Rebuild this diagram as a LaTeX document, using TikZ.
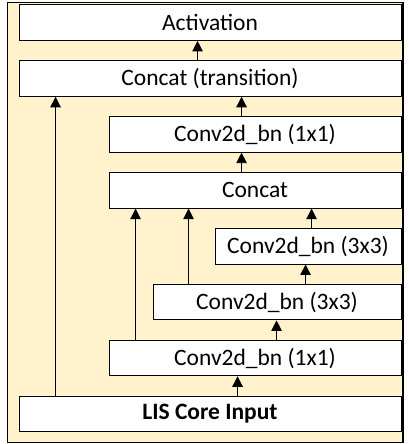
\documentclass[tikz,border=0pt]{standalone}
\usepackage{fontspec}
\setmainfont{Carlito}
\usetikzlibrary{positioning, arrows.meta}
\definecolor{cream}{HTML}{FFF2CC}

\begin{document}
\begin{tikzpicture}[x=1pt, y=1pt, node distance=19.5pt,
    box/.style={draw, fill=white, line width=0.9pt, minimum height=35.5pt,
      inner sep=0pt, font=\fontsize{23.5}{27}\selectfont},
    arr/.style={-{Triangle[length=10.5pt, width=10.5pt]}, line width=0.9pt}]

  \useasboundingbox (0,0) rectangle (408,444);
  \draw[fill=cream, line width=1.1pt] (7.3,1.8) rectangle (403,441.3);

  \node[box, minimum width=382pt] (lis) at (210,30) {\textbf{LIS Core Input}};
  \node[box, minimum width=292pt, above=of lis.north east, anchor=south east] (cv1b) {Conv2d\_bn (1x1)};
  \node[box, minimum width=248pt, above=of cv1b.north east, anchor=south east] (cv3m) {Conv2d\_bn (3x3)};
  \node[box, minimum width=186pt, above=of cv3m.north east, anchor=south east] (cv3s) {Conv2d\_bn (3x3)};
  \node[box, minimum width=292pt, above=of cv3s.north east, anchor=south east] (cat) {Concat};
  \node[box, minimum width=292pt, above=of cat.north east, anchor=south east] (cv1t) {Conv2d\_bn (1x1)};
  \node[box, minimum width=382pt, above=of cv1t.north east, anchor=south east] (trans) {Concat (transition)};
  \node[box, minimum width=382pt, above=of trans.north east, anchor=south east] (act) {Activation};

  \draw[arr] ([xshift=219pt]lis.north west) -- ([xshift=129pt]cv1b.south west);
  \draw[arr] ([xshift=168pt]cv1b.north west) -- ([xshift=124pt]cv3m.south west);
  \draw[arr] ([xshift=153pt]cv3m.north west) -- ([xshift=91pt]cv3s.south west);
  \draw[arr] ([xshift=97pt]cv3s.north west) -- ([xshift=203pt]cat.south west);
  \draw[arr] ([xshift=36pt]cv3m.north west) -- ([xshift=80pt]cat.south west);
  \draw[arr] ([xshift=27pt]cv1b.north west) -- ([xshift=27pt]cat.south west);
  \draw[arr] ([xshift=133pt]cat.north west) -- ([xshift=133pt]cv1t.south west);
  \draw[arr] ([xshift=133pt]cv1t.north west) -- ([xshift=223pt]trans.south west);
  \draw[arr] ([xshift=37pt]lis.north west) -- ([xshift=37pt]trans.south west);
  \draw[arr] ([xshift=179pt]trans.north west) -- ([xshift=179pt]act.south west);

\end{tikzpicture}
\end{document}
